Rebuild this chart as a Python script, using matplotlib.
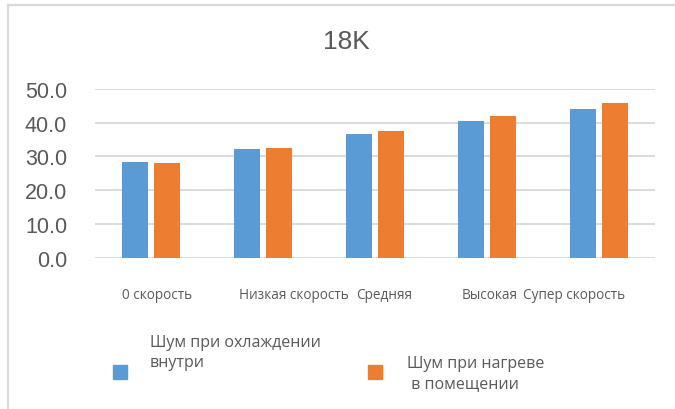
import matplotlib.pyplot as plt
from matplotlib.lines import Line2D
from matplotlib.patches import Rectangle
import numpy as np

categories = ["0 скорость", "Низкая скорость", "Средняя", "Высокая", "Супер скорость"]
cooling = [28.4, 32.3, 36.7, 40.6, 44.1]
heating = [28.1, 32.6, 37.6, 42.1, 45.9]
series_names = ["Шум при охлаждении\nвнутри", "Шум при нагреве\n в помещении"]
yticks = [0, 10, 20, 30, 40, 50]

blue = "#5b9bd5"
orange = "#ed7d31"
grey = "#595959"
grid = "#d9d9d9"

fig = plt.figure(figsize=(6.75, 4.1), dpi=100)
ax = fig.add_axes([0.1407, 0.369, 0.8296, 0.4115])

x = np.arange(len(categories))
w = 0.23
ax.bar(x - 0.14, cooling, width=w, color=blue, zorder=3)
ax.bar(x + 0.14, heating, width=w, color=orange, zorder=3)

ax.set_xlim(-0.5, 4.5)
ax.set_ylim(0, 50)
ax.set_yticks(yticks)
ax.set_yticklabels([f"{v:.1f}" for v in yticks], fontsize=15.5,
                   color=grey, family="Liberation Sans")
ax.tick_params(axis="y", length=0, pad=20)
ax.set_xticks([])
ax.grid(axis="y", color=grid, linewidth=1.3, zorder=0)
for s in ax.spines.values():
    s.set_visible(False)

# category labels sit a bit off-centre in the original
label_x = [0.054, 1.277, 2.08, 3.027, 3.777]
for lx, lab in zip(label_x, categories):
    ax.text(lx, -10.9, lab, ha="center", va="center", fontsize=9.8,
            color=grey, family="Open Sans")

fig.text(0.513, 0.897, "18K", ha="center", va="center", fontsize=19,
         color=grey, family="Liberation Sans")

# legend, drawn by hand to match the wrapped layout
fig.add_artist(Rectangle((113 / 675, 1 - 380 / 410), 14 / 675, 14 / 410,
                         transform=fig.transFigure, color=blue))
fig.add_artist(Rectangle((368 / 675, 1 - 380 / 410), 14 / 675, 14 / 410,
                         transform=fig.transFigure, color=orange))
fig.text(150 / 675, 1 - 353 / 410, series_names[0], ha="left", va="center",
         fontsize=11.5, color=grey, family="Open Sans", linespacing=1.3)
fig.text(407 / 675, 1 - 374 / 410, series_names[1], ha="left", va="center",
         fontsize=11.5, color=grey, family="Open Sans", linespacing=1.3)

# chart frame (only top and left edges are visible)
fig.add_artist(Line2D([7.5 / 675, 1], [1 - 6 / 410, 1 - 6 / 410],
                      transform=fig.transFigure, color=grid, linewidth=1.6))
fig.add_artist(Line2D([7.5 / 675, 7.5 / 675], [0, 1 - 6 / 410],
                      transform=fig.transFigure, color=grid, linewidth=1.6))

fig.savefig("out.png", dpi=100)
